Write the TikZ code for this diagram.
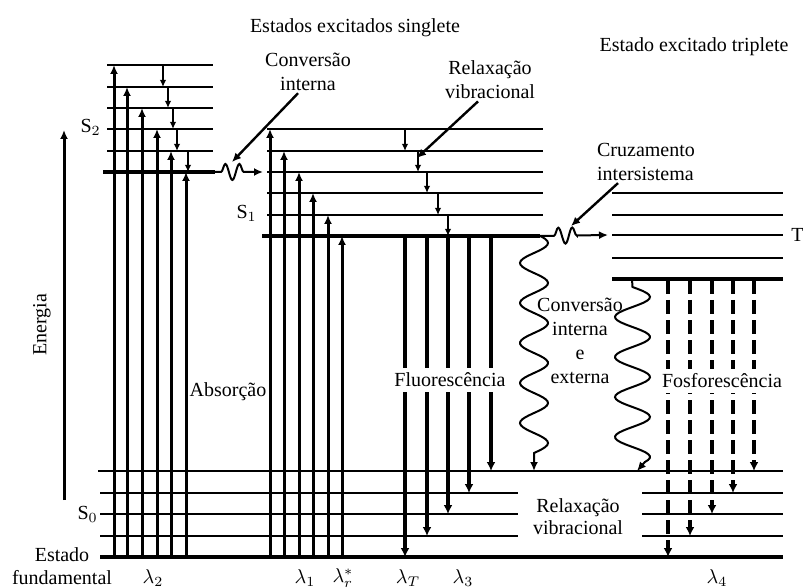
\documentclass[tikz,border=0pt]{standalone}
\usepackage{fontspec}
\setmainfont{Liberation Serif}
\usetikzlibrary{arrows.meta}
\usetikzlibrary{decorations.pathmorphing}
\tikzstyle{level}=[line width=1.2pt]
\tikzstyle{blevel}=[line width=2pt]
\tikzstyle{absorb}=[line width=1.5pt, -{Latex[length=4.5pt,width=4pt]}]
\tikzstyle{relax}=[line width=1pt, -{Latex[length=3.5pt,width=3.2pt]}]
\tikzstyle{fluor}=[line width=2.2pt, -{Latex[length=4.5pt,width=4.5pt]}]
\tikzstyle{phos}=[fluor, dash pattern=on 7pt off 3pt]
\tikzstyle{ripple}=[line width=1pt, decorate, decoration={snake, segment length=7pt, amplitude=4pt}, -{Latex[length=4.5pt,width=4pt]}]
\tikzstyle{bigwave}=[line width=1pt, -{Latex[length=4.5pt,width=4pt]}]
\tikzstyle{pointer}=[line width=1.2pt, -{Latex[length=4.5pt,width=4pt]}]
\tikzstyle{lbl}=[inner sep=1pt, align=center, font=\fontsize{10}{12}\selectfont]
\tikzstyle{blbl}=[lbl, fill=white, inner sep=2.5pt]

\begin{document}
\begin{tikzpicture}[x=0.5pt, y=-0.5pt]
    \useasboundingbox (0,0) rectangle (803,588);
    % singlet S2
    \foreach \y in {65,87,108,129,151}
        \draw[level] (107,\y) -- (213,\y);
    \draw[blevel] (103,172) -- (215,172);
    % singlet S1
    \foreach \y in {129,151,172,193,215}
        \draw[level] (267,\y) -- (543,\y);
    \draw[blevel] (262,236) -- (540,236);
    % triplet T1
    \foreach \y in {193,215,235,258}
        \draw[level] (612,\y) -- (783,\y);
    \draw[blevel] (612,279) -- (783,279);
    % ground state S0
    \draw[level] (98,471) -- (783,471);
    \foreach \y in {493,514,536} {
        \draw[level] (100,\y) -- (518,\y);
        \draw[level] (642,\y) -- (783,\y);
    }
    \draw[blevel] (100,557) -- (783,557);

    % absorption
    \foreach \x/\y in {114/65,127/87,142/108,157/129,171/151,186/172,270/129,284/151,299/172,313/193,328/215,342/236}
        \draw[absorb] (\x,557) -- (\x,\y);
    % vibrational relaxation
    \foreach \x/\a/\b in {163/65/87,168/87/108,173/108/129,177/129/151,188/151/172,405/129/151,418/151/172,427/172/193,438/193/215,448/215/236}
        \draw[relax] (\x,\a) -- (\x,\b);
    % fluorescence and phosphorescence
    \foreach \x/\y in {405/557,427/536,448/514,469/493,491/471}
        \draw[fluor] (\x,236) -- (\x,\y);
    \foreach \x/\y in {668/557,690/536,712/514,733/493,754/471}
        \draw[phos] (\x,280) -- (\x,\y);

    % energy axis
    \coordinate (e0) at (64,500);
    \coordinate (e1) at (64,130);
    \draw[absorb] (e0) -- (e1);
    \node[lbl, rotate=90] (energia) at (42,325) {Energia};

    % radiationless paths
    \coordinate (ic0) at (215,172);
    \coordinate (ic1) at (263,172);
    \draw[ripple, decoration={pre length=3pt, post length=9pt}] (ic0) -- (ic1);
    \coordinate (isc0) at (540,236);
    \coordinate (isc1) at (608,235);
    \draw[ripple, decoration={pre length=7pt, post length=13pt}] (isc0) -- (isc1);
    \coordinate (ws0) at (540,236);
    \coordinate (ws1) at (534,471);
    \draw[bigwave] (ws0) -- plot[domain=237:453, samples=110, variable=\t]
        ({534-14*cos((\t-263)/40*360)}, \t) -- (ws1);
    \coordinate (wt0) at (632,279);
    \coordinate (wt1) at (637,471);
    \draw[bigwave] (wt0) -- plot[domain=287:462, samples=90, variable=\t]
        ({632.5+17.5*cos((\t-297)/40*360)}, \t) -- (wt1);

    % labels
    \node[lbl] (sing) at (355,28) {Estados excitados singlete};
    \node[lbl] (trip) at (694,47) {Estado excitado triplete};
    \node[lbl, anchor=east] (s2) at (103,127) {S$_2$};
    \node[lbl, anchor=east] (s1) at (259,213) {S$_1$};
    \node[lbl, anchor=east] (s0) at (100,514) {S$_0$};
    \node[lbl, anchor=west] (t1) at (789,235) {T};
    \node[lbl] (ci) at (308,72) {Conversão\\interna};
    \node[lbl] (rv) at (490,80) {Relaxação\\vibracional};
    \node[lbl, align=left] (cz) at (646,162) {Cruzamento\\intersistema};
    \node[lbl] (abs) at (228,392) {Absorção};
    \node[blbl] (fl) at (450,380) {Fluorescência};
    \node[lbl] (cie) at (580,341) {Conversão\\interna\\e\\externa};
    \node[blbl] (fo) at (722,381) {Fosforescência};
    \node[lbl, font=\fontsize{10}{11}\selectfont] (rv0) at (578,517) {Relaxação\\vibracional};
    \node[lbl, font=\fontsize{10}{11.5}\selectfont] (fund) at (62,566) {Estado\\fundamental};
    \node[lbl] (l2) at (153,578) {$\lambda_2$};
    \node[lbl] (l1) at (305,578) {$\lambda_1$};
    \node[lbl] (l1b) at (343,578) {$\lambda^{*}_{r}$};
    \node[lbl] (lt) at (408,578) {$\lambda_{T}$};
    \node[lbl] (l3) at (463,578) {$\lambda_3$};
    \node[lbl] (l4) at (717,578) {$\lambda_4$};

    % pointers
    \coordinate (ciend) at (232,162);
    \coordinate (rvend) at (417,158);
    \coordinate (czend) at (571,226);
    \draw[pointer] ([xshift=-5pt]ci.south) -- (ciend);
    \draw[pointer] ([xshift=-6pt]rv.south) -- (rvend);
    \draw[pointer] ([xshift=-14pt]cz.south) -- (czend);
\end{tikzpicture}
\end{document}
